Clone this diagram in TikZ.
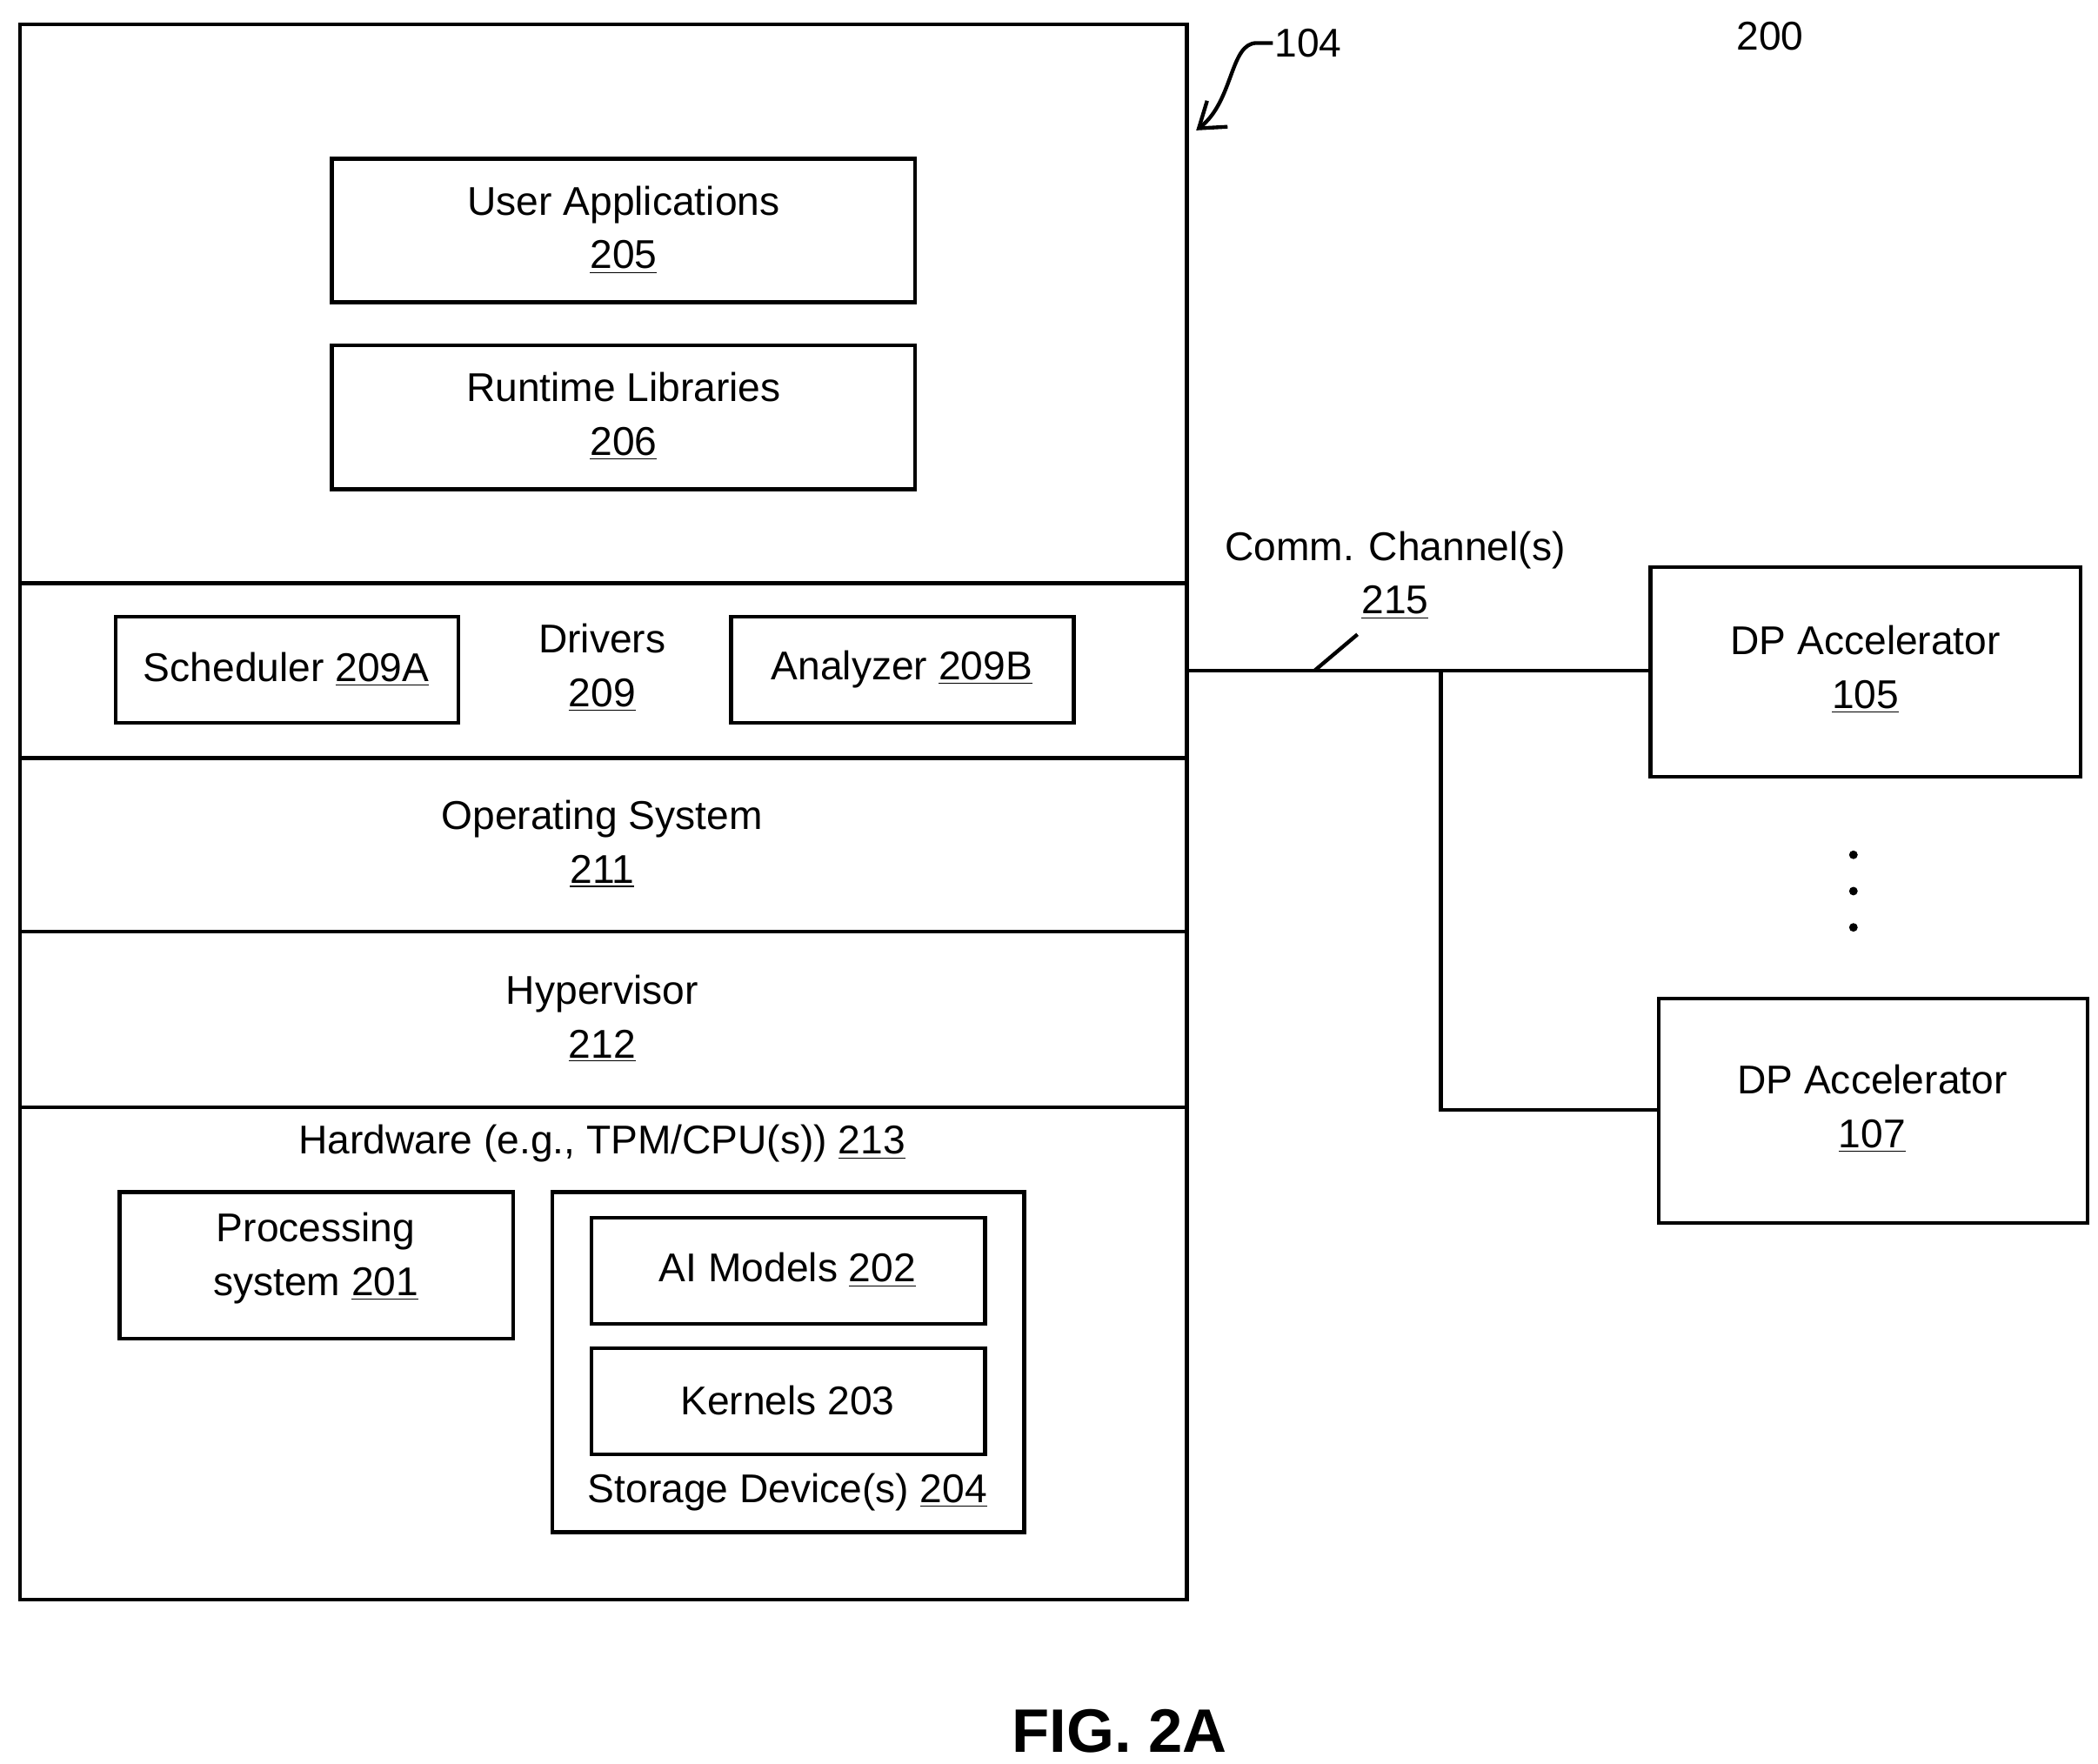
\documentclass[tikz,border=0pt]{standalone}
\usepackage{fontspec}
\setmainfont{Liberation Sans}
\usetikzlibrary{arrows.meta}
\begin{document}
\begin{tikzpicture}[x=0.02cm,y=-0.02cm,line width=1.6pt,
 box/.style={draw,rectangle},
 txt/.style={align=center,font=\fontsize{17}{22.7}\selectfont,inner sep=0pt}]
\useasboundingbox (0,0) rectangle (1561,1312);
\newcommand{\un}[1]{\underline{#1}}
\draw (15,18) rectangle (883,1190);
\foreach \yy/\n in {434/a,564/b,693/c,824/d} \draw (15,\yy) coordinate (l\n) -- (883,\yy) coordinate (r\n);
\draw (247,118) rectangle (681,225); \node[txt] (ua) at (464,171) {User Applications\\\un{205}};
\draw (247,257) rectangle (681,364); \node[txt] (rl) at (464,310) {Runtime Libraries\\\un{206}};
\draw (86,459) rectangle (341,538); \node[txt] (sch) at (213,498) {Scheduler \un{209A}};
\draw (544,459) rectangle (799,538); \node[txt] (an) at (671,498) {Analyzer \un{209B}};
\node[txt] (drv) at (448,497) {Drivers\\\un{209}};
\node[txt] (os) at (448,628) {Operating System\\\un{211}};
\node[txt] (hv) at (448,758) {Hypervisor\\\un{212}};
\node[txt] (hw) at (448,851) {Hardware (e.g., TPM/CPU(s)) \un{213}};
\draw (89,887) rectangle (382,996); \node[txt] (ps) at (235,936) {Processing\\system \un{201}};
\draw (411,887) rectangle (762,1140);
\draw (440,906) rectangle (733,985); \node[txt] (ai) at (586,945) {AI Models \un{202}};
\draw (440,1003) rectangle (733,1082); \node[txt] (ke) at (586,1042) {Kernels 203};
\node[txt] (sd) at (586,1110) {Storage Device(s) \un{204}};
\draw (1228,422) rectangle (1548,578); \node[txt] (dp5) at (1388,498) {DP Accelerator\\\un{105}};
\draw (1234,743) rectangle (1553,910); \node[txt] (dp7) at (1393,825) {DP Accelerator\\\un{107}};
\coordinate (j) at (1072,499);
\draw (883,499) -- (1228,499);
\draw (j) -- (1072,826) -- (1234,826);
\draw (978,499) -- (1010,472);
\node[txt] (cc) at (1038,428) {Comm. Channel(s)\\\un{215}};
\foreach \yy in {636,663,690} \fill (1379,\yy) circle (3.2);
\node[txt,anchor=west] (l104) at (947,32) {104};
\draw[-{Straight Barb[length=10pt,width=14pt]}] (947,32) -- (935,32) .. controls (915,32) and (918,75) .. (890,97);
\node[txt] (l200) at (1317,27) {200};
\node[txt,font=\fontsize{26}{30}\selectfont\bfseries] (fig) at (833,1288) {FIG. 2A};
\end{tikzpicture}
\end{document}
